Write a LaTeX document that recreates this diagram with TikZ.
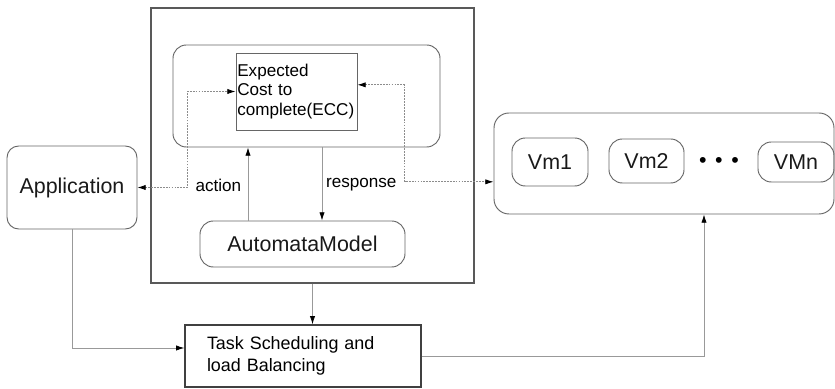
\documentclass[tikz,border=0pt]{standalone}
\usepackage{fontspec}
\setmainfont{Liberation Sans}
\usetikzlibrary{arrows.meta}

\begin{document}
\begin{tikzpicture}[
	bigfont/.style={font=\fontsize{18.3}{21}\selectfont},
	smallfont/.style={font=\fontsize{14.6}{16.3}\selectfont},
	roundbox/.style={draw=black!60, line width=0.8pt, rounded corners=0.4cm, bigfont, text=black!90},
	plainbox/.style={draw=black!65, line width=1.1pt},
	link/.style={draw=black!40, line width=0.7pt, -{Latex[length=7pt,width=4.5pt,black]}},
	dashlink/.style={draw=black!45, line width=0.7pt, dash pattern=on 1.5pt off 1pt, {Latex[length=7pt,width=4.5pt,black]}-{Latex[length=7pt,width=4.5pt,black]}},
	]
	\useasboundingbox (0,0) rectangle (25.05,11.67);
	%Nodes
	\node[plainbox, minimum width=9.69cm, minimum height=8.25cm]    (core)  at (9.375,7.305) {};
	\node[roundbox, minimum width=8.01cm, minimum height=3.06cm]    (panel) at (9.195,8.79)  {};
	\node[draw=black!60, line width=0.8pt, smallfont, align=left, text width=3.55cm, inner xsep=0.04cm, minimum height=2.31cm] (ecc) at (8.895,8.925) {Expected\\Cost to\\complete(ECC)};
	\node[roundbox, minimum width=6.15cm, minimum height=1.38cm]    (automata) at (9.075,4.35) {AutomataModel};
	\node[roundbox, rounded corners=0.35cm, minimum width=3.9cm, minimum height=2.49cm] (app) at (2.16,6.045) {Application};
	\node[plainbox, draw=black!75, font=\fontsize{15.3}{18.8}\selectfont, align=left, text width=5.76cm, inner xsep=0.66cm, minimum height=1.86cm] (task) at (9.09,0.99) {Task Scheduling and\\load Balancing};
	\node[roundbox, rounded corners=0.45cm, minimum width=10.2cm, minimum height=3.03cm] (pool) at (19.92,6.765) {};
	\node[roundbox, minimum width=2.28cm, minimum height=1.44cm]    (vm1)   at (16.5,6.81)   {Vm1};
	\node[roundbox, minimum width=2.25cm, minimum height=1.32cm]    (vm2)   at (19.395,6.84) {Vm2};
	\node[bigfont]                                                  (dots)  at (21.57,6.78)  {\textbullet\hspace{0.26cm}\textbullet\hspace{0.26cm}\textbullet};
	\node[roundbox, minimum width=2.28cm, minimum height=1.2cm]     (vmn)   at (23.88,6.81)  {VMn};
	\node[smallfont, anchor=east]                                   (actlabel)  at (7.36,6.12) {action};
	\node[smallfont, anchor=west]                                   (resplabel) at (9.66,6.12) {response};
	\coordinate (actfoot) at ([xshift=-1.635cm]automata.north);
	\coordinate (resptop) at ([xshift=0.465cm]panel.south);
	
	%Lines
	\draw[link] (actfoot) -- (actfoot |- panel.south);
	\draw[link] (resptop) -- (resptop |- automata.north);
	\draw[dashlink] (app.east) -| ([xshift=-1.44cm]ecc.west) -- (ecc.west);
	\draw[dashlink] ([yshift=0.2cm]ecc.east) -| ([xshift=-2.67cm,yshift=-0.55cm]pool.west) -- ([yshift=-0.55cm]pool.west);
	\draw[link] (core.south) -- (core.south |- task.north);
	\draw[link] (app.south) |- ([yshift=0.24cm]task.west);
	\draw[link] (task.east) -| ([xshift=1.2cm]pool.south);
\end{tikzpicture}
\end{document}
